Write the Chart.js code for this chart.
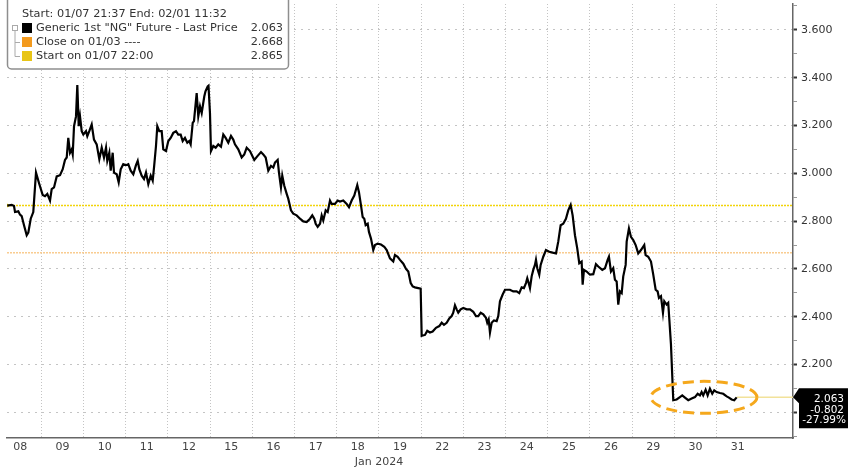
<!DOCTYPE html>
<html>
<head>
<meta charset="utf-8">
<script src="https://cdn.jsdelivr.net/npm/chart.js@4.4.1/dist/chart.umd.min.js"></script>
<style>
  html, body { margin: 0; padding: 0; background: #fff; }
</style>
</head>
<body>
<canvas id="grafico" width="848" height="469"></canvas>
<script>
// Etiquetas de sesión (enero 2024)
const dias = ['08', '09', '10', '11', '12', '15', '16', '17', '18', '19', '22', '23', '24', '25', '26', '29', '30', '31'];

// Posición en días de sesión (0 = sesión del 08) y precio del contrato
const tiempo = [
  0.194, 0.299, 0.353, 0.377, 0.455, 0.495, 0.535, 0.590, 0.654, 0.692,
  0.749, 0.810, 0.874, 0.952, 1.033, 1.087, 1.142, 1.206, 1.246, 1.301,
  1.365, 1.443, 1.507, 1.561, 1.602, 1.639, 1.680, 1.720, 1.744, 1.775,
  1.822, 1.853, 1.886, 1.917, 1.957, 1.995, 2.059, 2.090, 2.137, 2.194,
  2.248, 2.312, 2.374, 2.431, 2.485, 2.533, 2.563, 2.611, 2.644, 2.691,
  2.722, 2.786, 2.833, 2.881, 2.942, 3.006, 3.061, 3.118, 3.179, 3.243,
  3.284, 3.322, 3.378, 3.433, 3.480, 3.535, 3.592, 3.639, 3.670, 3.717,
  3.748, 3.795, 3.852, 3.890, 3.954, 4.009, 4.065, 4.127, 4.191, 4.245,
  4.302, 4.350, 4.404, 4.459, 4.506, 4.539, 4.587, 4.617, 4.681, 4.719,
  4.760, 4.800, 4.861, 4.890, 4.942, 4.961, 4.996, 5.020, 5.075, 5.131,
  5.193, 5.257, 5.312, 5.368, 5.430, 5.494, 5.548, 5.588, 5.667, 5.747,
  5.809, 5.866, 5.944, 6.046, 6.126, 6.205, 6.259, 6.316, 6.378, 6.442,
  6.496, 6.536, 6.600, 6.631, 6.678, 6.709, 6.757, 6.814, 6.852, 6.915,
  6.970, 7.050, 7.129, 7.207, 7.287, 7.366, 7.420, 7.467, 7.501, 7.548,
  7.603, 7.643, 7.681, 7.738, 7.785, 7.840, 7.880, 7.958, 8.022, 8.076,
  8.154, 8.235, 8.290, 8.353, 8.415, 8.486, 8.526, 8.574, 8.614, 8.652,
  8.685, 8.733, 8.763, 8.811, 8.865, 8.905, 8.969, 9.048, 9.126, 9.183,
  9.261, 9.339, 9.379, 9.443, 9.498, 9.577, 9.641, 9.695, 9.752, 9.799,
  9.853, 9.931, 9.988, 10.012, 10.090, 10.144, 10.208, 10.272, 10.351, 10.429,
  10.486, 10.540, 10.604, 10.666, 10.723, 10.760, 10.801, 10.841, 10.879, 10.936,
  10.998, 11.078, 11.157, 11.234, 11.298, 11.353, 11.410, 11.472, 11.535, 11.566,
  11.599, 11.630, 11.670, 11.725, 11.789, 11.827, 11.867, 11.931, 11.986, 12.040,
  12.104, 12.182, 12.262, 12.324, 12.381, 12.435, 12.483, 12.514, 12.547, 12.578,
  12.618, 12.656, 12.696, 12.720, 12.751, 12.798, 12.831, 12.893, 12.957, 13.035,
  13.115, 13.194, 13.248, 13.305, 13.366, 13.430, 13.485, 13.542, 13.589, 13.644,
  13.698, 13.746, 13.802, 13.826, 13.857, 13.921, 13.999, 14.078, 14.141, 14.196,
  14.291, 14.355, 14.418, 14.449, 14.497, 14.551, 14.591, 14.632, 14.670, 14.710,
  14.751, 14.788, 14.845, 14.869, 14.923, 14.971, 15.025, 15.082, 15.143, 15.207,
  15.286, 15.318, 15.380, 15.445, 15.499, 15.556, 15.603, 15.634, 15.682, 15.729,
  15.760, 15.816, 15.854, 15.918, 15.973, 16.053, 16.131, 16.186, 16.250, 16.328,
  16.409, 16.487, 16.551, 16.605, 16.645, 16.683, 16.740, 16.788, 16.842, 16.897,
  16.944, 17.001, 17.079, 17.157, 17.238, 17.292, 17.356, 17.418, 17.475
];

const precio = [
  2.865, 2.868, 2.863, 2.838, 2.841, 2.827, 2.821, 2.783, 2.741, 2.752,
  2.810, 2.838, 3.003, 2.955, 2.909, 2.904, 2.914, 2.886, 2.934, 2.941,
  2.987, 2.992, 3.017, 3.056, 3.066, 3.148, 3.086, 3.100, 3.079, 3.197,
  3.238, 3.369, 3.197, 3.238, 3.176, 3.162, 3.176, 3.155, 3.176, 3.204,
  3.141, 3.121, 3.059, 3.107, 3.066, 3.107, 3.052, 3.086, 3.011, 3.086,
  3.003, 2.996, 2.962, 3.017, 3.038, 3.034, 3.038, 3.011, 2.996, 3.034,
  3.052, 3.017, 2.990, 2.976, 3.003, 2.955, 2.990, 2.969, 3.024, 3.114,
  3.197, 3.176, 3.176, 3.100, 3.093, 3.135, 3.148, 3.169, 3.176, 3.162,
  3.162, 3.135, 3.148, 3.128, 3.135, 3.121, 3.211, 3.218, 3.335, 3.238,
  3.280, 3.252, 3.321, 3.343, 3.363, 3.366, 3.252, 3.093, 3.114, 3.107,
  3.121, 3.111, 3.162, 3.148, 3.128, 3.156, 3.141, 3.121, 3.100, 3.066,
  3.079, 3.107, 3.093, 3.056, 3.073, 3.089, 3.079, 3.066, 3.011, 3.031,
  3.024, 3.045, 3.056, 3.003, 2.941, 2.990, 2.948, 2.914, 2.893, 2.845,
  2.831, 2.824, 2.810, 2.799, 2.796, 2.810, 2.824, 2.810, 2.789, 2.776,
  2.789, 2.824, 2.803, 2.845, 2.838, 2.886, 2.872, 2.872, 2.886, 2.882,
  2.886, 2.872, 2.858, 2.886, 2.907, 2.951, 2.921, 2.866, 2.817, 2.810,
  2.783, 2.789, 2.755, 2.727, 2.679, 2.700, 2.706, 2.702, 2.693, 2.679,
  2.644, 2.631, 2.658, 2.651, 2.638, 2.622, 2.600, 2.589, 2.541, 2.527,
  2.523, 2.520, 2.518, 2.320, 2.324, 2.341, 2.334, 2.338, 2.354, 2.361,
  2.375, 2.366, 2.375, 2.393, 2.403, 2.417, 2.448, 2.431, 2.417, 2.431,
  2.437, 2.431, 2.431, 2.421, 2.403, 2.403, 2.417, 2.410, 2.396, 2.375,
  2.389, 2.334, 2.375, 2.385, 2.382, 2.403, 2.465, 2.493, 2.513, 2.513,
  2.513, 2.506, 2.506, 2.499, 2.523, 2.520, 2.541, 2.561, 2.541, 2.520,
  2.569, 2.596, 2.617, 2.638, 2.603, 2.576, 2.617, 2.651, 2.679, 2.672,
  2.668, 2.665, 2.714, 2.783, 2.789, 2.810, 2.845, 2.868, 2.824, 2.741,
  2.686, 2.624, 2.631, 2.534, 2.596, 2.589, 2.576, 2.578, 2.620, 2.610,
  2.596, 2.603, 2.638, 2.651, 2.589, 2.603, 2.555, 2.548, 2.451, 2.506,
  2.499, 2.569, 2.617, 2.714, 2.769, 2.734, 2.721, 2.700, 2.665, 2.679,
  2.700, 2.658, 2.651, 2.631, 2.576, 2.513, 2.506, 2.479, 2.486, 2.417,
  2.465, 2.451, 2.458, 2.286, 2.051, 2.054, 2.064, 2.071, 2.062, 2.051,
  2.058, 2.064, 2.078, 2.071, 2.085, 2.071, 2.095, 2.071, 2.099, 2.078,
  2.092, 2.085, 2.081, 2.078, 2.067, 2.062, 2.054, 2.051, 2.063
];

// Marcas del eje derecho (las de 0.2 llevan etiqueta)
const marcasY = [1.9, 2.0, 2.1, 2.2, 2.3, 2.4, 2.5, 2.6, 2.7, 2.8, 2.9, 3.0, 3.1, 3.2, 3.3, 3.4, 3.5, 3.6, 3.7];

// Niveles de referencia y último dato
const cierre0103 = 2.668;
const inicio0107 = 2.865;
const ultimoPrecio = 2.063;
const cambioAbs = '-0.802';
const cambioPct = '-27.99%';

const fuente = '"DejaVu Sans", Verdana, sans-serif';
const xMin = 0.187, xMax = 18.81;
const yMin = 1.893, yMax = 3.708;

function esMayor(v) {
    return Math.round(v * 10) % 2 === 0;
}

// Dibujos extra: elipse, caja del último precio, leyenda y "Jan 2024"
const extras = {
    id: 'extras',
    afterDraw(chart) {
        const ctx = chart.ctx;
        const sx = chart.scales.x;
        const sy = chart.scales.y;

        // Elipse punteada naranja alrededor del tramo final
        const cx = sx.getPixelForValue(16.70);
        const cy = sy.getPixelForValue(ultimoPrecio);
        ctx.save();
        ctx.strokeStyle = '#F5A81C';
        ctx.lineWidth = 3;
        ctx.setLineDash([11, 6]);
        ctx.beginPath();
        ctx.ellipse(cx, cy, 53, 16, 0, 0, Math.PI * 2);
        ctx.stroke();
        ctx.restore();

        // Caja negra con el último valor
        const py = sy.getPixelForValue(ultimoPrecio);
        const right = chart.chartArea.right;
        ctx.save();
        ctx.fillStyle = '#000';
        ctx.beginPath();
        ctx.moveTo(right, py);
        ctx.lineTo(right + 6, py - 9);
        ctx.lineTo(848, py - 9);
        ctx.lineTo(848, py + 31);
        ctx.lineTo(right + 6, py + 31);
        ctx.lineTo(right + 6, py + 6);
        ctx.closePath();
        ctx.fill();
        ctx.fillStyle = '#fff';
        ctx.font = '10.5px ' + fuente;
        ctx.textAlign = 'right';
        ctx.textBaseline = 'middle';
        ctx.fillText(ultimoPrecio.toFixed(3), 844, py + 2);
        ctx.fillText(cambioAbs, 844, py + 12.5);
        ctx.fillText(cambioPct, 846, py + 23);
        ctx.restore();

        // Leyenda
        ctx.save();
        ctx.fillStyle = '#fff';
        ctx.strokeStyle = '#8e8e8e';
        ctx.lineWidth = 1.5;
        ctx.beginPath();
        ctx.roundRect(7.5, -4, 281, 73, 4);
        ctx.fill();
        ctx.stroke();

        ctx.font = '11.3px ' + fuente;
        ctx.fillStyle = '#333';
        ctx.textBaseline = 'middle';
        ctx.textAlign = 'left';
        ctx.fillText('Start: 01/07 21:37 End: 02/01 11:32', 22, 14);

        const filas = [
            { color: '#000000', texto: 'Generic 1st "NG" Future - Last Price', valor: ultimoPrecio.toFixed(3) },
            { color: '#F39A1E', texto: 'Close on 01/03 ----', valor: cierre0103.toFixed(3) },
            { color: '#E8C517', texto: 'Start on 01/07 22:00', valor: inicio0107.toFixed(3) }
        ];
        filas.forEach((f, i) => {
            const yy = 28 + i * 14;
            ctx.fillStyle = f.color;
            ctx.fillRect(22, yy - 5, 10, 10);
            ctx.fillStyle = '#333';
            ctx.textAlign = 'left';
            ctx.fillText(f.texto, 36, yy);
            ctx.textAlign = 'right';
            ctx.fillText(f.valor, 283, yy);
        });

        // Árbol de la leyenda
        ctx.strokeStyle = '#aaa';
        ctx.lineWidth = 1;
        ctx.strokeRect(12.5, 25.5, 5, 5);
        ctx.beginPath();
        ctx.moveTo(15, 31); ctx.lineTo(15, 56.5); ctx.lineTo(20, 56.5);
        ctx.moveTo(15, 42.5); ctx.lineTo(20, 42.5);
        ctx.stroke();
        ctx.restore();

        // Título del eje X
        ctx.save();
        ctx.font = '11px ' + fuente;
        ctx.fillStyle = '#444';
        ctx.textAlign = 'center';
        ctx.textBaseline = 'middle';
        ctx.fillText('Jan 2024', 379, 462);
        ctx.restore();
    }
};

const ultimoT = tiempo[tiempo.length - 1];

const datos = {
    datasets: [
        {
            label: 'Generic 1st "NG" Future - Last Price',
            data: tiempo.map((t, i) => ({ x: t, y: precio[i] })),
            borderColor: '#000',
            borderWidth: 2.2,
            pointRadius: 0,
            tension: 0
        },
        {
            label: 'Último',
            data: [{ x: ultimoT, y: ultimoPrecio }, { x: xMax, y: ultimoPrecio }],
            borderColor: '#F2E29A',
            borderWidth: 1.5,
            pointRadius: 0
        },
        {
            label: 'Start on 01/07 22:00',
            data: [{ x: xMin, y: inicio0107 }, { x: xMax, y: inicio0107 }],
            borderColor: '#F2D40A',
            borderWidth: 1.5,
            borderDash: [2, 1],
            pointRadius: [3.5, 0],
            pointStyle: 'triangle',
            rotation: 90,
            pointBackgroundColor: '#F2D40A',
            pointBorderWidth: 0
        },
        {
            label: 'Close on 01/03',
            data: [{ x: xMin, y: cierre0103 }, { x: xMax, y: cierre0103 }],
            borderColor: '#F9CC90',
            borderWidth: 1.5,
            borderDash: [2, 1],
            pointRadius: 0
        }
    ]
};

const opciones = {
    responsive: false,
    animation: false,
    devicePixelRatio: 1,
    layout: { padding: { left: 7, top: 0, right: 0, bottom: 0 } },
    plugins: { legend: { display: false }, tooltip: { enabled: false } },
    scales: {
        x: {
            type: 'linear',
            min: xMin,
            max: xMax,
            afterBuildTicks: s => { s.ticks = dias.map((d, i) => ({ value: i + 1 })); },
            afterFit: s => { s.height = 31; s.paddingLeft = 0; s.paddingRight = 0; },
            ticks: {
                callback: (v, i) => dias[i],
                autoSkip: false,
                maxRotation: 0,
                labelOffset: -21.1,
                padding: 3,
                color: '#444',
                font: { family: fuente, size: 11 }
            },
            grid: {
                color: c => (c.index === dias.length - 1 ? 'rgba(0,0,0,0)' : '#c4c4c4'),
                lineWidth: 1,
                drawTicks: false
            },
            border: { color: '#666', width: 1.5, dash: [1, 2] }
        },
        y: {
            position: 'right',
            min: yMin,
            max: yMax,
            afterBuildTicks: s => { s.ticks = marcasY.map(v => ({ value: v })); },
            afterFit: s => { s.width = 55; s.paddingTop = 0; s.paddingBottom = 0; },
            ticks: {
                callback: v => (esMayor(v) && v > 2.1 ? v.toFixed(3) : ''),
                padding: 4,
                color: '#333',
                font: { family: fuente, size: 11 }
            },
            grid: {
                color: c => (c.tick && esMayor(c.tick.value) ? '#c4c4c4' : 'rgba(0,0,0,0)'),
                lineWidth: 1,
                tickLength: 4,
                tickColor: c => (c.tick && esMayor(c.tick.value) ? '#333' : '#999'),
                tickWidth: c => (c.tick && esMayor(c.tick.value) ? 2 : 1)
            },
            border: { color: '#666', width: 1.5, dash: [2, 5] }
        }
    }
};

const ctx = document.getElementById('grafico').getContext('2d');
const grafico = new Chart(ctx, { type: 'line', data: datos, options: opciones, plugins: [extras] });
</script>
</body>
</html>
